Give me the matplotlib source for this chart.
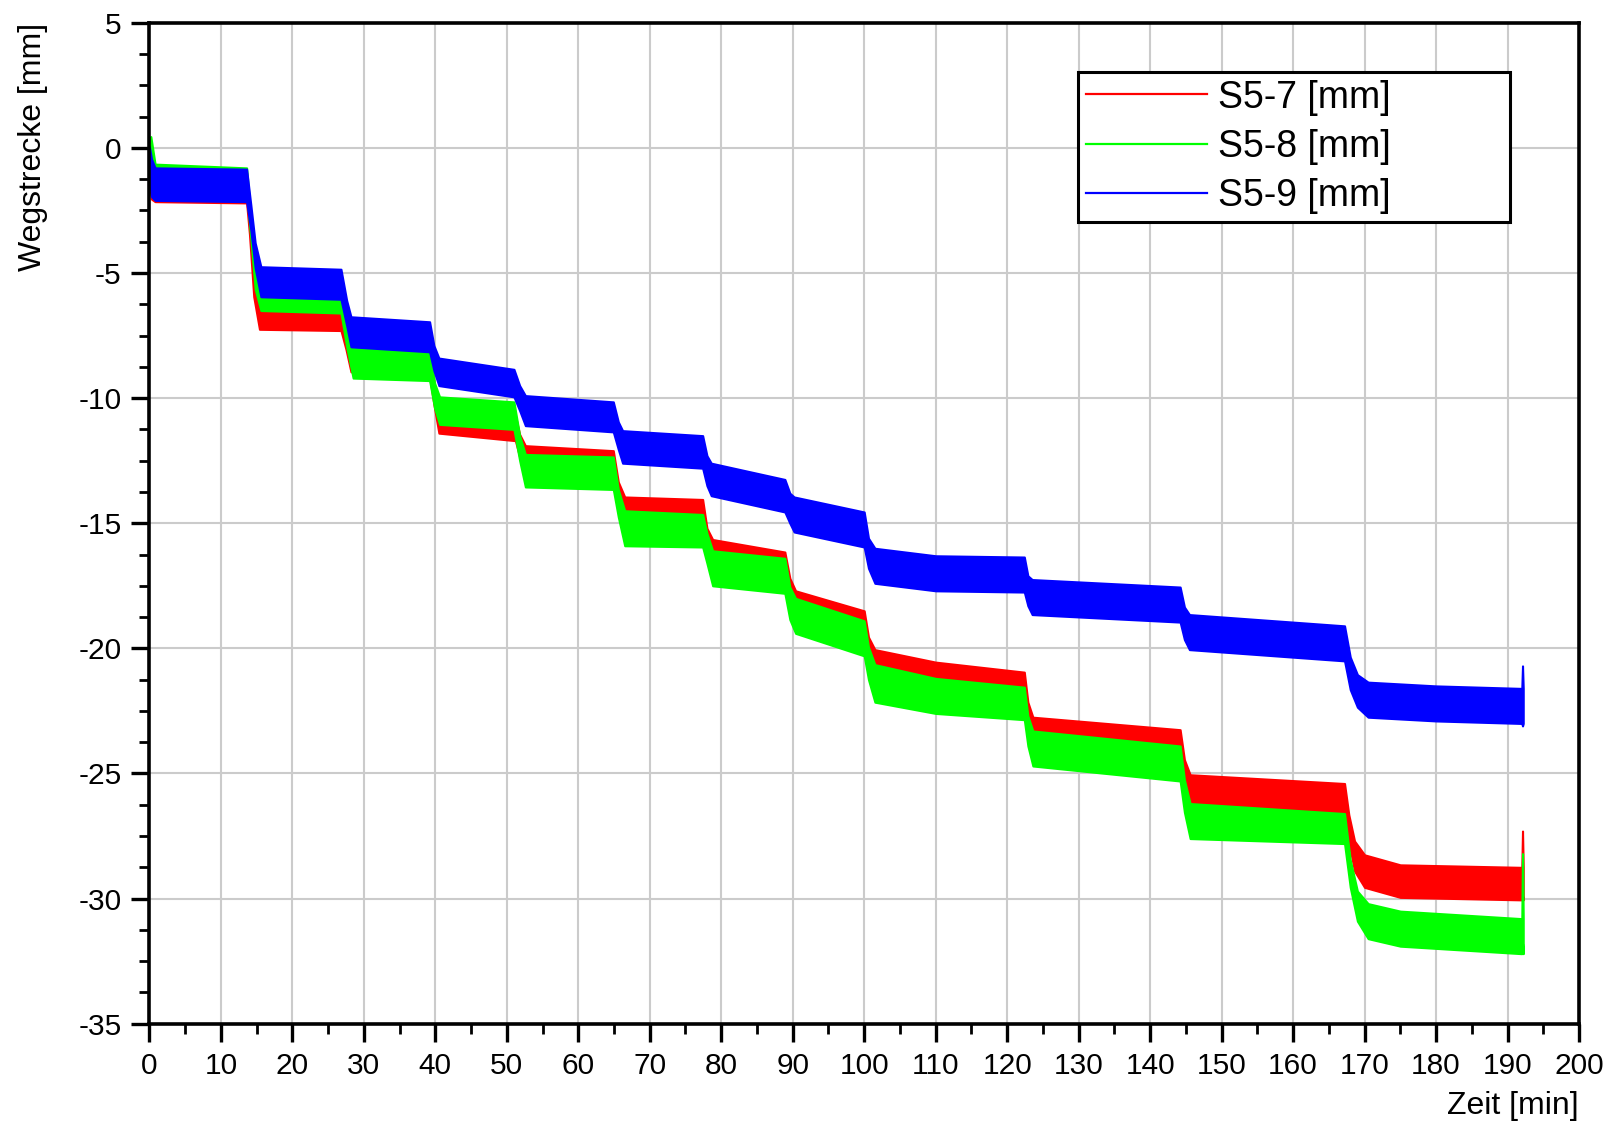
import matplotlib
matplotlib.use("Agg")
import matplotlib.pyplot as plt
from matplotlib.lines import Line2D
from matplotlib.ticker import MultipleLocator
import numpy as np

plt.rcParams['font.family'] = ['Liberation Sans', 'DejaVu Sans']
plt.rcParams['axes.unicode_minus'] = False

# ---- data: breakpoints, band centre, band half-width ----
series_names = ["S5-7 [mm]", "S5-8 [mm]", "S5-9 [mm]"]
series_colors = ["#ff0000", "#00ff00", "#0000ff"]

red_t = [0, 0.3, 0.8, 13.6, 14.0, 14.6, 15.4, 26.8, 27.5, 28.2, 39.2, 39.8, 40.5,
         51.2, 51.8, 52.6, 64.9, 65.6, 66.5, 77.4, 78.0, 78.8, 88.9, 89.6, 90.4,
         100.0, 100.6, 101.5, 110.0, 122.4, 122.9, 123.6, 144.2, 144.8, 145.6,
         167.2, 167.8, 168.6, 170.0, 175.0, 192.0, 192.1, 192.2]
red_c = [-0.9, -1.4, -1.55, -1.6, -3.0, -5.5, -6.7, -6.8, -7.6, -8.4, -8.6, -9.8, -10.9,
         -11.2, -11.9, -12.4, -12.6, -13.8, -14.4, -14.5, -15.6, -16.1, -16.6, -17.6, -18.2,
         -19.0, -20.0, -20.6, -21.1, -21.4, -22.6, -23.3, -23.8, -25.0, -25.7,
         -26.0, -27.2, -28.3, -28.9, -29.3, -29.4, -28.6, -29.4]
red_hw = [0.55, 0.65, 0.6, 0.6, 0.45, 0.45, 0.55, 0.5, 0.45, 0.55, 0.55, 0.45, 0.5,
          0.5, 0.45, 0.5, 0.5, 0.45, 0.45, 0.45, 0.4, 0.45, 0.45, 0.4, 0.5,
          0.5, 0.45, 0.55, 0.55, 0.45, 0.45, 0.55, 0.55, 0.55, 0.65,
          0.6, 0.55, 0.6, 0.65, 0.65, 0.65, 1.3, 0.65]

green_t = [0, 0.2, 0.8, 13.6, 14.2, 14.8, 15.6, 26.8, 27.6, 28.5, 39.2, 39.9, 40.6,
           51.0, 51.8, 52.6, 64.9, 65.6, 66.5, 77.4, 78.0, 78.8, 88.9, 89.6, 90.4,
           100.0, 100.6, 101.5, 110.0, 122.4, 122.9, 123.6, 144.2, 144.8, 145.6,
           167.2, 168.0, 169.0, 170.5, 175.0, 192.0, 192.1, 192.2]
green_c = [-0.2, -0.1, -1.25, -1.3, -3.2, -5.2, -6.1, -6.2, -7.5, -8.6, -8.7, -9.9, -10.5,
           -10.7, -12.0, -12.9, -13.0, -14.2, -15.2, -15.3, -16.0, -16.8, -17.1, -18.2, -18.7,
           -19.6, -20.6, -21.4, -21.9, -22.2, -23.3, -24.0, -24.6, -25.9, -26.9,
           -27.2, -29.0, -30.3, -30.9, -31.2, -31.5, -30.0, -31.5]
green_hw = [0.6, 0.55, 0.6, 0.5, 0.45, 0.45, 0.4, 0.4, 0.45, 0.6, 0.6, 0.5, 0.55,
            0.55, 0.5, 0.65, 0.65, 0.55, 0.7, 0.65, 0.6, 0.7, 0.7, 0.65, 0.7,
            0.7, 0.65, 0.75, 0.7, 0.65, 0.6, 0.7, 0.7, 0.65, 0.7,
            0.6, 0.55, 0.6, 0.7, 0.7, 0.7, 1.8, 0.7]

blue_t = [0, 0.3, 0.8, 13.6, 14.2, 14.8, 15.6, 26.8, 27.6, 28.2, 39.2, 39.8, 40.5,
          51.0, 51.8, 52.6, 64.9, 65.6, 66.2, 77.4, 78.0, 78.6, 88.9, 89.6, 90.2,
          100.0, 100.6, 101.5, 110.0, 122.4, 122.9, 123.5, 144.2, 144.8, 145.5,
          167.2, 168.0, 169.0, 170.5, 180.0, 192.0, 192.1, 192.2]
blue_c = [-0.6, -1.2, -1.45, -1.5, -2.8, -4.3, -5.35, -5.45, -6.6, -7.35, -7.55, -8.4, -8.95,
          -9.4, -10.0, -10.5, -10.75, -11.5, -11.95, -12.15, -12.9, -13.25, -13.9, -14.4, -14.65,
          -15.25, -16.2, -16.7, -17.0, -17.05, -17.7, -17.95, -18.25, -19.0, -19.35,
          -19.8, -21.0, -21.7, -22.05, -22.2, -22.3, -21.9, -22.3]
blue_hw = [0.65, 0.75, 0.65, 0.65, 0.5, 0.5, 0.6, 0.6, 0.5, 0.6, 0.6, 0.5, 0.55,
           0.55, 0.5, 0.6, 0.6, 0.55, 0.65, 0.65, 0.6, 0.65, 0.65, 0.6, 0.7,
           0.7, 0.6, 0.7, 0.7, 0.7, 0.6, 0.7, 0.7, 0.65, 0.7,
           0.7, 0.65, 0.65, 0.7, 0.7, 0.7, 1.2, 0.7]

x_ticks = list(range(0, 201, 10))
y_ticks = list(range(-35, 6, 5))

# ---- figure ----
fig = plt.figure(figsize=(16.15, 11.25), dpi=100)
ax = fig.add_axes([0.0925, 0.0900, 0.9777 - 0.0925, 0.9798 - 0.0900])

all_series = [(red_t, red_c, red_hw), (green_t, green_c, green_hw), (blue_t, blue_c, blue_hw)]
for (t, c, hw), col in zip(all_series, series_colors):
    t = np.asarray(t)
    c = np.asarray(c)
    hw = np.asarray(hw)
    ax.fill_between(t, c - hw, c + hw, color=col, edgecolor=col, linewidth=1.5, zorder=3)

ax.set_xlim(0, 200)
ax.set_ylim(-35, 5)
ax.set_xticks(x_ticks)
ax.set_yticks(y_ticks)
ax.xaxis.set_minor_locator(MultipleLocator(5))
ax.yaxis.set_minor_locator(MultipleLocator(1.25))
ax.grid(True, which='major', color='#cbcbcb', linewidth=1.5, zorder=0)
ax.set_axisbelow(True)

for s in ax.spines.values():
    s.set_linewidth(2.6)
    s.set_color('black')
    s.set_zorder(5)

ax.tick_params(axis='both', which='major', direction='out', length=13, width=2.4,
               labelsize=21.5, pad=7, colors='black')
ax.tick_params(axis='both', which='minor', direction='out', length=7, width=2.0)
ax.tick_params(top=False, right=False, which='both')

ax.set_xlabel("Zeit [min]", fontsize=23, loc='right', labelpad=8)
ax.set_ylabel("Wegstrecke [mm]", fontsize=23, loc='top', labelpad=22)

handles = [Line2D([0], [0], color=c, linewidth=1.6) for c in series_colors]
leg_x0, leg_x1, leg_top = 1078 / 1615, 1510 / 1615, 1 - 72 / 1125
leg = ax.legend(handles, series_names, loc='upper left', mode='expand',
                bbox_to_anchor=(leg_x0, leg_top - 0.2, leg_x1 - leg_x0, 0.2),
                bbox_transform=fig.transFigure,
                borderaxespad=0, fontsize=27, handlelength=3.25, handletextpad=0.27,
                labelspacing=0.36, borderpad=0.2, fancybox=False, framealpha=1,
                edgecolor='black')
leg.get_frame().set_linewidth(2.2)
leg.set_zorder(10)

fig.savefig("out.png", dpi=100)
